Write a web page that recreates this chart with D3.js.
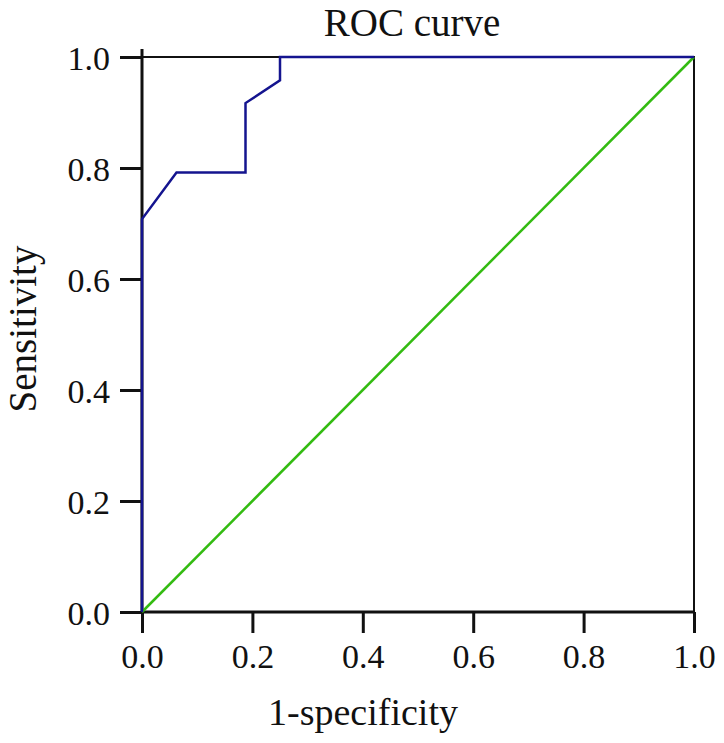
<!DOCTYPE html>
<html><head><meta charset="utf-8">
<script src="https://cdn.jsdelivr.net/npm/d3@7/dist/d3.min.js"></script>
<style>body{margin:0;background:#fff}</style>
</head><body>
<script>
const fpr = [0, 0, 0.0625, 0.1875, 0.1875, 0.25, 0.25, 1.0];
const tpr = [0, 0.708, 0.792, 0.792, 0.917, 0.958, 1.0, 1.0];
const refX = [0, 1];
const refY = [0, 1];
const ticks = [0, 0.2, 0.4, 0.6, 0.8, 1.0];

const W = 724, H = 743;
const svg = d3.select("body").append("svg").attr("width", W).attr("height", H);
const x = d3.scaleLinear().domain([0, 1]).range([142, 694]);
const y = d3.scaleLinear().domain([0, 1]).range([612, 57]);
const font = "'Liberation Serif', 'Times New Roman', serif";

// frame (top & right)
svg.append("path")
  .attr("d", `M${x(0)},${y(1)}H${x(1)}V${y(0)}`)
  .attr("fill", "none").attr("stroke", "#111").attr("stroke-width", 2);

// axes
const xAxis = d3.axisBottom(x).tickValues(ticks).tickFormat(d3.format(".1f")).tickSize(21).tickSizeOuter(0);
const yAxis = d3.axisLeft(y).tickValues(ticks).tickFormat(d3.format(".1f")).tickSize(22).tickSizeOuter(0);

const gx = svg.append("g").attr("transform", `translate(0,${y(0)})`).call(xAxis);
const gy = svg.append("g").attr("transform", `translate(${x(0)},0)`).call(yAxis);
[gx, gy].forEach(g => {
  g.select(".domain").attr("stroke", "#111").attr("stroke-width", 3);
  g.selectAll(".tick line").attr("stroke", "#111").attr("stroke-width", 3);
  g.selectAll(".tick text").attr("fill", "#111").style("font-family", font).style("font-size", "34px");
});
gx.select(".domain").attr("d", `M${x(0)},0H${x(1)}`);
gy.select(".domain").attr("d", `M0,${y(0)}V${y(1) - 8}`);
gx.selectAll(".tick text").attr("y", 56).attr("dy", 0);
gy.selectAll(".tick text").attr("x", -32).attr("dy", "0.36em");

// reference diagonal
const line = d3.line().x(d => x(d[0])).y(d => y(d[1]));
svg.append("path")
  .datum(refX.map((v, i) => [v, refY[i]]))
  .attr("d", line).attr("fill", "none").attr("stroke", "#33bb11").attr("stroke-width", 2.5);

// ROC curve
svg.append("path")
  .datum(fpr.map((v, i) => [v, tpr[i]]))
  .attr("d", line).attr("fill", "none").attr("stroke", "#14148f").attr("stroke-width", 2.5);

// title & labels
svg.append("text").attr("x", 412).attr("y", 36).attr("text-anchor", "middle")
  .style("font-family", font).style("font-size", "39px").attr("fill", "#111").text("ROC curve");
svg.append("text").attr("x", 363).attr("y", 725).attr("text-anchor", "middle")
  .style("font-family", font).style("font-size", "38px").attr("fill", "#111").text("1-specificity");
svg.append("text").attr("transform", `translate(36,329) rotate(-90)`).attr("text-anchor", "middle")
  .style("font-family", font).style("font-size", "39px").attr("fill", "#111").text("Sensitivity");
</script>
</body></html>
